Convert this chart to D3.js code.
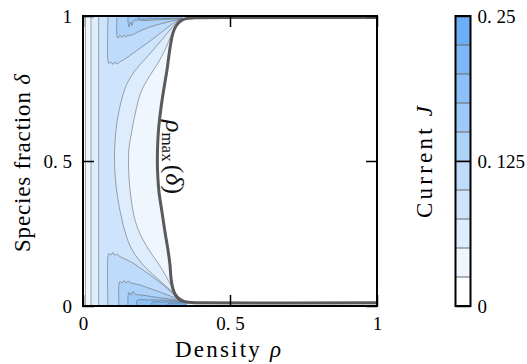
<!DOCTYPE html>
<html><head><meta charset="utf-8">
<script src="https://cdn.jsdelivr.net/npm/d3@7"></script>
<style>
html,body{margin:0;padding:0;background:#fff;}
svg{display:block;}
</style></head><body>
<svg id="chart" width="527" height="364"></svg>
<script>
// Iso-current levels of J
const levels = [0.025, 0.05, 0.075, 0.1, 0.125, 0.15, 0.175, 0.2, 0.225];
const jMax = 0.25;
const xTicks = [0, 0.5, 1];
const xTickLabels = ["0", "0. 5", "1"];
const yTicks = [0, 0.5, 1];
const yTickLabels = ["0", "0. 5", "1"];
const cbTicks = [0, 0.125, 0.25];
const cbTickLabels = ["0", "0. 125", "0. 25"];

// Jamming boundary rho_max(delta), as [rho, delta], delta from 1 down to 0
const rhoMax = [[1.0,0.9948],[0.568,0.9948],[0.381,0.9938],[0.3503,0.991],[0.3299,0.981],[0.3163,0.9655],[0.3061,0.9414],[0.2993,0.9103],[0.2925,0.8655],[0.2857,0.8138],[0.2755,0.7517],[0.2653,0.6828],[0.2568,0.6069],[0.2534,0.5379],[0.2534,0.469],[0.2585,0.3931],[0.2687,0.3241],[0.2789,0.2552],[0.2891,0.1931],[0.2959,0.1414],[0.2993,0.0966],[0.3061,0.0586],[0.3163,0.0345],[0.3333,0.019],[0.3571,0.0128],[0.398,0.011],[1.0,0.011]];

// Rising branches at low density (rho of J = 0.025, 0.05, 0.075)
const risingRho = [0.0085, 0.0272, 0.0534];

// Falling branches spanning all delta, [rho, delta] from top to bottom
const fall050 = [[0.3435,0.9914],[0.3299,0.9776],[0.3129,0.9552],[0.2959,0.9241],[0.2789,0.8828],[0.2551,0.8379],[0.2245,0.7897],[0.1973,0.7379],[0.1803,0.6759],[0.1667,0.6069],[0.1565,0.5448],[0.1548,0.5],[0.1565,0.4414],[0.1633,0.3724],[0.1769,0.2966],[0.2007,0.2345],[0.2313,0.1828],[0.2619,0.1379],[0.2857,0.0966],[0.3061,0.0586],[0.3265,0.031],[0.3503,0.0145]];
const fall075 = [[0.3401,0.9914],[0.3197,0.9793],[0.2959,0.9517],[0.2619,0.9103],[0.2177,0.8586],[0.1735,0.8069],[0.1463,0.7586],[0.1293,0.7034],[0.1156,0.6345],[0.1088,0.5655],[0.1071,0.5],[0.1105,0.4345],[0.119,0.3655],[0.1327,0.2966],[0.1463,0.2448],[0.1633,0.2],[0.1905,0.1586],[0.2211,0.1241],[0.2551,0.0931],[0.2891,0.0621],[0.3197,0.0345],[0.3503,0.0155]];

// Lobes near delta = 1 (top) and delta = 0 (bottom), J >= 0.1
const top100 = [[0.085,1],[0.085,0.8448],[0.0884,0.8362],[0.0952,0.8414],[0.102,0.8328],[0.1088,0.8414],[0.1156,0.8345],[0.1224,0.8397],[0.1429,0.8517],[0.1735,0.8741],[0.2143,0.9034],[0.2551,0.9345],[0.2891,0.9621],[0.3163,0.981],[0.3401,0.991]];
const top125 = [[0.1156,1],[0.1156,0.931],[0.119,0.9241],[0.1259,0.9328],[0.1327,0.9259],[0.1395,0.9345],[0.1463,0.9276],[0.1531,0.9345],[0.1599,0.9328],[0.1939,0.9483],[0.2279,0.9621],[0.2619,0.9724],[0.2959,0.981],[0.3231,0.9879],[0.3401,0.991]];
const top150 = [[0.1531,1],[0.1531,0.9793],[0.1565,0.9621],[0.1616,0.9793],[0.1667,0.9672],[0.1735,0.9845],[0.2109,0.9845],[0.2551,0.9869],[0.2959,0.989],[0.3401,0.991]];
const top175 = [[0.1871,1],[0.1871,0.9914],[0.2449,0.991],[0.2959,0.9917],[0.3401,0.9921]];
const bot100 = [[0.085,0],[0.085,0.1724],[0.0884,0.181],[0.0952,0.1759],[0.102,0.1845],[0.1088,0.1741],[0.1156,0.1793],[0.1224,0.1724],[0.1429,0.1621],[0.1701,0.1483],[0.2041,0.1241],[0.2381,0.1],[0.2687,0.0759],[0.2959,0.0517],[0.3231,0.031],[0.3503,0.0152]];
const bot125 = [[0.1224,0],[0.1224,0.0759],[0.1259,0.0845],[0.1327,0.0793],[0.1395,0.0879],[0.1463,0.0793],[0.1531,0.0862],[0.1599,0.081],[0.1939,0.0724],[0.2279,0.0603],[0.2619,0.0483],[0.2959,0.0345],[0.3265,0.0224],[0.3503,0.0145]];
const bot150 = [[0.1531,0],[0.1531,0.031],[0.1565,0.0466],[0.1633,0.0379],[0.1701,0.05],[0.1769,0.0414],[0.2109,0.0362],[0.2551,0.0293],[0.2959,0.0241],[0.3299,0.019],[0.3537,0.0138]];
const bot175 = [[0.1837,0],[0.1837,0.019],[0.2279,0.0207],[0.2721,0.0207],[0.3129,0.0179],[0.3537,0.0131]];
const bot200 = [[0.2347,0],[0.2347,0.0121],[0.2789,0.0138],[0.3197,0.0145],[0.3537,0.0124]];
const bot225 = [[0.2891,0],[0.2891,0.0076],[0.3231,0.0103],[0.3537,0.0117]];

const lobes = [
  {level: 0.1, edge: 1, pts: top100}, {level: 0.1, edge: 0, pts: bot100},
  {level: 0.125, edge: 1, pts: top125}, {level: 0.125, edge: 0, pts: bot125},
  {level: 0.15, edge: 1, pts: top150}, {level: 0.15, edge: 0, pts: bot150},
  {level: 0.175, edge: 1, pts: top175}, {level: 0.175, edge: 0, pts: bot175},
  {level: 0.2, edge: 0, pts: bot200}, {level: 0.225, edge: 0, pts: bot225}
];

const FONT = '"Liberation Serif", serif';
const svg = d3.select("#chart");
const x = d3.scaleLinear().domain([0, 1]).range([83, 377]);
const y = d3.scaleLinear().domain([0, 1]).range([306, 16]);
const cbY = d3.scaleLinear().domain([0, jMax]).range([306, 16]);
const cbX0 = 455.5, cbX1 = 470.5;

const shade = d3.interpolateRgb("#ffffff", "#6caef5");
const bandColor = lev => shade(Math.round(lev / 0.025) / levels.length);

const curve = d3.curveCatmullRom.alpha(0.5);
const line = d3.line().x(d => x(d[0])).y(d => y(d[1])).curve(curve);
const tail = pts => line(pts).replace(/^M/, "L");

svg.append("defs").append("clipPath").attr("id", "plotClip")
  .append("rect").attr("x", x(0)).attr("y", y(1))
  .attr("width", x(1) - x(0)).attr("height", y(0) - y(1));

const fills = svg.append("g").attr("clip-path", "url(#plotClip)");

// J > 0.025: from the low-density branch to the jamming boundary
fills.append("path")
  .attr("d", `M${x(risingRho[0])},${y(1)}L${x(risingRho[0])},${y(0)}L${x(1)},${y(0)}`
    + tail(rhoMax.slice().reverse()) + `L${x(1)},${y(1)}Z`)
  .attr("fill", bandColor(levels[0]));

// J > 0.05 and J > 0.075: bounded by rising and falling branches
[[risingRho[1], fall050, levels[1]], [risingRho[2], fall075, levels[2]]].forEach(([r, fall, lev]) => {
  const first = fall[0], last = fall[fall.length - 1];
  fills.append("path")
    .attr("d", `M${x(r)},${y(1)}L${x(r)},${y(0)}L${x(last[0])},${y(0)}`
      + tail(fall.slice().reverse()) + `L${x(first[0])},${y(1)}Z`)
    .attr("fill", bandColor(lev));
});

// High-current lobes along delta = 0 and delta = 1
lobes.forEach(l => {
  const last = l.pts[l.pts.length - 1];
  fills.append("path")
    .attr("d", line(l.pts) + `L${x(last[0])},${y(l.edge)}Z`)
    .attr("fill", bandColor(l.level));
});

// Contour lines
const lines = svg.append("g").attr("clip-path", "url(#plotClip)")
  .attr("fill", "none").attr("stroke", "#6a6a6a").attr("stroke-opacity", 0.6).attr("stroke-width", 1);
risingRho.forEach(r => {
  lines.append("path").attr("d", d3.line().x(d => x(d[0])).y(d => y(d[1]))([[r, 0], [r, 1]]));
});
[fall050, fall075].forEach(f => lines.append("path").attr("d", line(f)));
lobes.forEach(l => lines.append("path").attr("d", line(l.pts)));

// Jamming boundary
svg.append("path").attr("clip-path", "url(#plotClip)")
  .attr("d", line(rhoMax)).attr("fill", "none")
  .attr("stroke", "#5a5a5a").attr("stroke-width", 3);

// rho_max(delta) label
const lab = svg.append("text").style("font-family", FONT)
  .attr("transform", "translate(166,157) rotate(90)")
  .attr("text-anchor", "middle").style("font-size", "26px").attr("fill", "#111");
lab.append("tspan").style("font-style", "italic").text("ρ");
lab.append("tspan").style("font-size", "17px").attr("dy", 4).text("max");
lab.append("tspan").attr("dy", -4).attr("dx", 3).text("(");
lab.append("tspan").style("font-style", "italic").text("δ");
lab.append("tspan").text(")");

// Frame
svg.append("rect").attr("x", x(0)).attr("y", y(1))
  .attr("width", x(1) - x(0)).attr("height", y(0) - y(1))
  .attr("fill", "none").attr("stroke", "#000").attr("stroke-width", 2);

// Axes with inward ticks
function styleAxis(g) {
  g.select(".domain").remove();
  g.selectAll(".tick line").attr("stroke", "#000").attr("stroke-width", 1.5);
  g.selectAll(".tick text").attr("fill", "#000")
    .style("font-family", FONT).style("font-size", "19px");
}
svg.append("g").attr("transform", `translate(0,${y(0)})`)
  .call(d3.axisBottom(x).tickValues(xTicks).tickSize(-11).tickPadding(10.5)
    .tickFormat((d, i) => xTickLabels[i]))
  .call(styleAxis);
svg.append("g").attr("transform", `translate(0,${y(1)})`)
  .call(d3.axisTop(x).tickValues(xTicks).tickSize(-11).tickFormat(""))
  .call(styleAxis);
svg.append("g").attr("transform", `translate(${x(0)},0)`)
  .call(d3.axisLeft(y).tickValues(yTicks).tickSize(-11).tickPadding(11)
    .tickFormat((d, i) => yTickLabels[i]))
  .call(styleAxis);
svg.append("g").attr("transform", `translate(${x(1)},0)`)
  .call(d3.axisRight(y).tickValues(yTicks).tickSize(-11).tickFormat(""))
  .call(styleAxis);

// Axis titles
const xt = svg.append("text").style("font-family", FONT).attr("x", 228).attr("y", 357)
  .attr("text-anchor", "middle").style("font-size", "23px")
  .attr("textLength", 106).attr("lengthAdjust", "spacing");
xt.append("tspan").text("Density ");
xt.append("tspan").style("font-style", "italic").text("ρ");

const yt = svg.append("text").style("font-family", FONT).attr("transform", "translate(30,163) rotate(-90)")
  .attr("text-anchor", "middle").style("font-size", "23px")
  .attr("textLength", 178).attr("lengthAdjust", "spacing");
yt.append("tspan").text("Species fraction ");
yt.append("tspan").style("font-style", "italic").text("δ");

// Colorbar
const cb = svg.append("g");
const edges = [0, ...levels, jMax];
cb.selectAll("rect.band").data(d3.range(edges.length - 1)).join("rect")
  .attr("class", "band")
  .attr("x", cbX0).attr("width", cbX1 - cbX0)
  .attr("y", i => cbY(edges[i + 1])).attr("height", i => cbY(edges[i]) - cbY(edges[i + 1]))
  .attr("fill", i => bandColor(edges[i]));
cb.selectAll("line.sep").data(levels).join("line")
  .attr("class", "sep")
  .attr("x1", cbX0).attr("x2", cbX1).attr("y1", d => cbY(d)).attr("y2", d => cbY(d))
  .attr("stroke", "#6a6a6a").attr("stroke-opacity", 0.8).attr("stroke-width", 1.3);
cb.append("rect").attr("x", cbX0).attr("y", cbY(jMax))
  .attr("width", cbX1 - cbX0).attr("height", cbY(0) - cbY(jMax))
  .attr("fill", "none").attr("stroke", "#000").attr("stroke-width", 2);
svg.append("g").attr("transform", `translate(${cbX1},0)`)
  .call(d3.axisRight(cbY).tickValues(cbTicks).tickSize(-(cbX1 - cbX0)).tickPadding(7)
    .tickFormat((d, i) => cbTickLabels[i]))
  .call(styleAxis);

const ct = svg.append("text").style("font-family", FONT).attr("transform", "translate(432,162) rotate(-90)")
  .attr("text-anchor", "middle").style("font-size", "23px")
  .attr("textLength", 112).attr("lengthAdjust", "spacing");
ct.append("tspan").text("Current ");
ct.append("tspan").style("font-style", "italic").text("J");
</script>
</body></html>
